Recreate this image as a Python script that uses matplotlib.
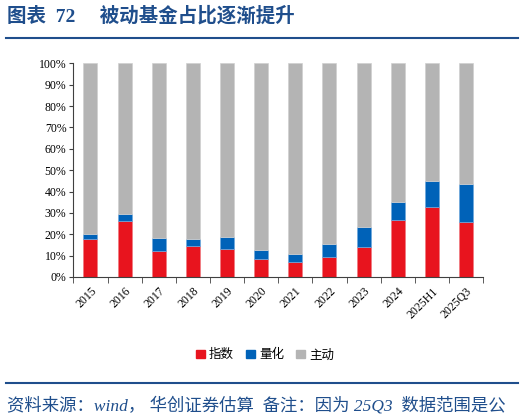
import numpy as np
import matplotlib.pyplot as plt
from matplotlib.lines import Line2D

plt.rcParams['font.family'] = ['Liberation Serif', 'Noto Sans CJK SC']

# data (share, %)
years = ["2015", "2016", "2017", "2018", "2019", "2020", "2021",
         "2022", "2023", "2024", "2025H1", "2025Q3"]
index_share = [17.8, 26.4, 12.0, 14.4, 12.9, 8.3, 7.0, 9.5, 13.9, 26.5, 32.6, 25.7]
quant_share = [2.5, 3.1, 6.1, 3.2, 5.8, 4.2, 3.8, 6.1, 9.3, 8.4, 12.3, 17.7]
active_share = [100 - a - b for a, b in zip(index_share, quant_share)]

RED = "#E8141E"
BLUE = "#0062B8"
GREY = "#B4B4B4"
NAVY = "#1F4E8C"

fig = plt.figure(figsize=(5.24, 4.2), dpi=100)
ax = fig.add_axes([0.140, 0.3405, 0.782, 0.5085])

x = np.arange(len(years))
w = 0.41
ax.bar(x, index_share, w, color=RED, edgecolor="#F07A80", linewidth=0.5)
ax.bar(x, quant_share, w, bottom=index_share, color=BLUE, edgecolor="#6FA8DC", linewidth=0.5)
bottoms = [a + b for a, b in zip(index_share, quant_share)]
ax.bar(x, active_share, w, bottom=bottoms, color=GREY, edgecolor="#D0D0D0", linewidth=0.5)

ax.set_xlim(-0.5, len(years) - 0.5)
ax.set_ylim(0, 100)
ax.set_yticks(np.arange(0, 101, 10))
ax.set_yticklabels([f"{v}%" for v in range(0, 101, 10)], fontsize=8.5)

ax.set_xticks(x)
ax.set_xticklabels(years, rotation=45, ha="right", va="top",
                   rotation_mode="anchor", fontsize=8.5)
ax.tick_params(axis="x", length=0, pad=6)
ax.set_xticks(np.arange(-0.5, len(years)), minor=True)
ax.tick_params(axis="x", which="minor", length=4, direction="out", color="#404040")
ax.tick_params(axis="y", length=3, direction="out", color="#404040", pad=2)

for s in ["top", "right"]:
    ax.spines[s].set_visible(False)
ax.spines["left"].set_color("#404040")
ax.spines["bottom"].set_color("#404040")

handles = [plt.Rectangle((0, 0), 1, 1, color=c) for c in (RED, BLUE, GREY)]
fig.legend(handles, ["指数", "量化", "主动"], loc="center", bbox_to_anchor=(0.506, 0.155),
           ncol=3, frameon=False, handlelength=0.65, handleheight=0.65,
           handletextpad=0.35, columnspacing=1.0,
           prop={"family": ["Noto Sans CJK SC"], "size": 9})

fig.text(0.013, 0.962, "图表  72     被动基金占比逐渐提升", fontsize=14, fontweight="bold",
         color=NAVY, va="center", ha="left", family=["Liberation Serif", "Noto Sans CJK SC"])
fig.add_artist(Line2D([0.011, 0.988], [0.909, 0.909], color=NAVY, linewidth=1.5))
fig.add_artist(Line2D([0.011, 0.988], [0.088, 0.088], color=NAVY, linewidth=1.5))
fig.text(0.013, 0.035, "资料来源：wind， 华创证券估算  备注：因为 25Q3  数据范围是公", fontsize=12.5,
         style="italic", color=NAVY, va="center", ha="left",
         family=["Liberation Serif", "Noto Sans CJK SC"])

fig.savefig("out.png", dpi=100)
